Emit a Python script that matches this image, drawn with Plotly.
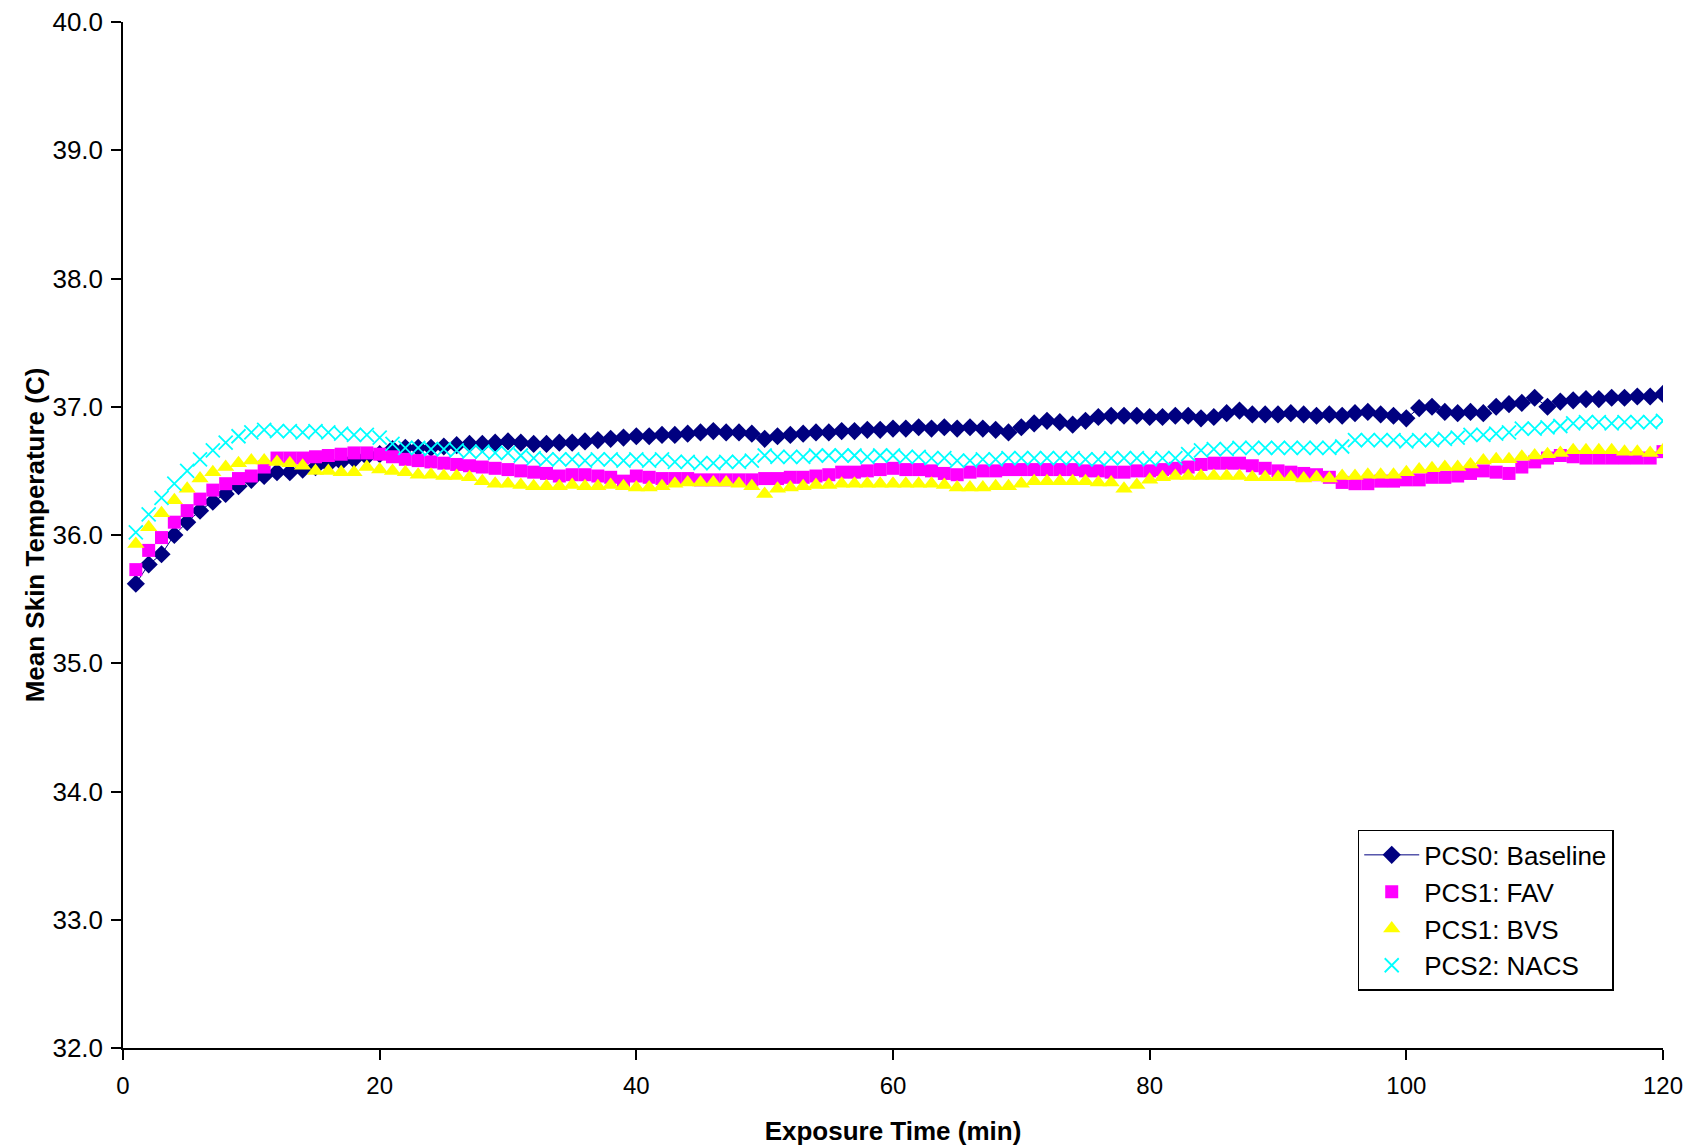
import plotly.graph_objects as go

minutes = list(range(1, 121))

baseline = [
    35.62, 35.77, 35.85, 36.00, 36.10, 36.19, 36.26, 36.32, 36.38, 36.43,
    36.46, 36.49, 36.49, 36.51, 36.53, 36.55, 36.57, 36.59, 36.61, 36.63,
    36.67, 36.68, 36.68, 36.68, 36.69, 36.70, 36.71, 36.71, 36.72, 36.73,
    36.72, 36.71, 36.71, 36.72, 36.72, 36.73, 36.74, 36.75, 36.76, 36.77,
    36.77, 36.78, 36.78, 36.79, 36.80, 36.81, 36.80, 36.80, 36.79, 36.75,
    36.77, 36.78, 36.79, 36.80, 36.80, 36.81, 36.81, 36.82, 36.82, 36.83,
    36.83, 36.84, 36.83, 36.84, 36.83, 36.84, 36.83, 36.82, 36.80, 36.84,
    36.87, 36.89, 36.88, 36.86, 36.89, 36.92, 36.93, 36.93, 36.93, 36.92,
    36.92, 36.93, 36.93, 36.91, 36.92, 36.95, 36.97, 36.94, 36.94, 36.94,
    36.95, 36.94, 36.93, 36.94, 36.93, 36.95, 36.96, 36.94, 36.93, 36.91,
    36.99, 37.00, 36.96, 36.95, 36.96, 36.95, 37.00, 37.02, 37.03, 37.07,
    37.00, 37.04, 37.05, 37.06, 37.06, 37.07, 37.07, 37.08, 37.08, 37.10,
]

fav = [
    35.73, 35.88, 35.98, 36.10, 36.19, 36.28, 36.35, 36.40, 36.44, 36.46,
    36.53, 36.60, 36.60, 36.60, 36.61, 36.62, 36.63, 36.64, 36.64, 36.63,
    36.61, 36.59, 36.58, 36.57, 36.56, 36.55, 36.54, 36.53, 36.52, 36.51,
    36.50, 36.49, 36.48, 36.46, 36.47, 36.47, 36.46, 36.45, 36.42, 36.46,
    36.45, 36.44, 36.44, 36.44, 36.43, 36.43, 36.43, 36.43, 36.43, 36.44,
    36.44, 36.45, 36.45, 36.46, 36.47, 36.49, 36.49, 36.50, 36.51, 36.52,
    36.51, 36.51, 36.50, 36.48, 36.47, 36.49, 36.50, 36.50, 36.51, 36.51,
    36.51, 36.51, 36.51, 36.51, 36.50, 36.50, 36.49, 36.49, 36.50, 36.50,
    36.51, 36.52, 36.53, 36.55, 36.56, 36.56, 36.56, 36.54, 36.52, 36.50,
    36.49, 36.48, 36.47, 36.45, 36.41, 36.40, 36.40, 36.42, 36.42, 36.43,
    36.43, 36.45, 36.45, 36.46, 36.48, 36.50, 36.49, 36.48, 36.53, 36.57,
    36.60, 36.62, 36.61, 36.60, 36.60, 36.60, 36.60, 36.60, 36.60, 36.65,
]

bvs = [
    35.93, 36.06, 36.17, 36.27, 36.36, 36.44, 36.49, 36.53, 36.56, 36.58,
    36.58, 36.57, 36.56, 36.54, 36.50, 36.50, 36.49, 36.49, 36.53, 36.51,
    36.50, 36.49, 36.47, 36.47, 36.46, 36.46, 36.45, 36.42, 36.40, 36.40,
    36.39, 36.38, 36.38, 36.38, 36.39, 36.38, 36.38, 36.39, 36.38, 36.37,
    36.37, 36.38, 36.40, 36.41, 36.41, 36.41, 36.41, 36.40, 36.38, 36.32,
    36.36, 36.37, 36.38, 36.39, 36.39, 36.40, 36.40, 36.40, 36.40, 36.40,
    36.40, 36.40, 36.40, 36.39, 36.37, 36.37, 36.37, 36.38, 36.38, 36.40,
    36.42, 36.42, 36.42, 36.42, 36.42, 36.41, 36.41, 36.36, 36.39, 36.43,
    36.45, 36.46, 36.46, 36.46, 36.46, 36.46, 36.46, 36.45, 36.45, 36.45,
    36.45, 36.44, 36.45, 36.44, 36.46, 36.46, 36.47, 36.47, 36.47, 36.49,
    36.51, 36.52, 36.53, 36.53, 36.55, 36.58, 36.59, 36.59, 36.61, 36.62,
    36.63, 36.64, 36.66, 36.66, 36.66, 36.66, 36.65, 36.65, 36.64, 36.66,
]

nacs = [
    36.02, 36.16, 36.29, 36.40, 36.50, 36.59, 36.66, 36.72, 36.77, 36.80,
    36.82, 36.81, 36.81, 36.80, 36.81, 36.80, 36.79, 36.78, 36.78, 36.76,
    36.71, 36.68, 36.68, 36.67, 36.67, 36.66, 36.65, 36.65, 36.64, 36.64,
    36.62, 36.60, 36.59, 36.59, 36.59, 36.58, 36.59, 36.59, 36.58, 36.59,
    36.58, 36.59, 36.57, 36.57, 36.56, 36.56, 36.57, 36.57, 36.58, 36.62,
    36.61, 36.61, 36.61, 36.62, 36.62, 36.62, 36.62, 36.61, 36.62, 36.62,
    36.61, 36.61, 36.60, 36.60, 36.58, 36.58, 36.59, 36.59, 36.60, 36.60,
    36.60, 36.60, 36.60, 36.60, 36.59, 36.59, 36.60, 36.60, 36.60, 36.59,
    36.60, 36.60, 36.63, 36.66, 36.67, 36.67, 36.68, 36.68, 36.68, 36.68,
    36.68, 36.68, 36.68, 36.68, 36.69, 36.74, 36.74, 36.74, 36.74, 36.73,
    36.74, 36.74, 36.75, 36.76, 36.78, 36.78, 36.79, 36.80, 36.83, 36.83,
    36.84, 36.85, 36.87, 36.88, 36.88, 36.87, 36.88, 36.88, 36.88, 36.89,
]

series_names = ["PCS0: Baseline", "PCS1: FAV", "PCS1: BVS", "PCS2: NACS"]
y_ticks = [32, 33, 34, 35, 36, 37, 38, 39, 40]
x_ticks = [0, 20, 40, 60, 80, 100, 120]

FONT = "Liberation Sans, Arial, sans-serif"

fig = go.Figure()
fig.add_trace(go.Scatter(
    x=minutes, y=baseline, name=series_names[0], mode="lines+markers",
    line=dict(color="#000080", width=1),
    marker=dict(symbol="diamond", size=14, color="#000080"),
))
fig.add_trace(go.Scatter(
    x=minutes, y=fav, name=series_names[1], mode="markers",
    marker=dict(symbol="square", size=13, color="#FF00FF"),
))
fig.add_trace(go.Scatter(
    x=minutes, y=bvs, name=series_names[2], mode="markers",
    marker=dict(symbol="triangle-up", size=15, color="#FFFF00"),
))
fig.add_trace(go.Scatter(
    x=minutes, y=nacs, name=series_names[3], mode="markers",
    marker=dict(symbol="x-thin", size=14, color="#00FFFF",
                line=dict(color="#00FFFF", width=1.8)),
))

fig.update_layout(
    width=1702, height=1146,
    margin=dict(l=123, r=39, t=22, b=98, autoexpand=False),
    paper_bgcolor="white", plot_bgcolor="white",
    font=dict(family=FONT, size=24, color="black"),
    showlegend=True,
    legend=dict(
        x=0.968, y=0.0556, xanchor="right", yanchor="bottom",
        bordercolor="black", borderwidth=1.5, bgcolor="white",
        font=dict(family=FONT, size=26, color="black"),
        tracegroupgap=0, itemwidth=55,
    ),
)
fig.update_xaxes(
    range=[0, 120], tickvals=x_ticks, ticktext=[str(v) for v in x_ticks],
    showgrid=False, zeroline=False, automargin=False,
    showline=True, linecolor="black", linewidth=1.5,
    ticks="outside", ticklen=10, tickwidth=1.5, tickcolor="black",
    ticklabelstandoff=5,
    tickfont=dict(family=FONT, size=24, color="black"),
    title=dict(text="<b>Exposure Time (min)</b>", font=dict(family=FONT, size=26, color="black"), standoff=32),
)
fig.update_yaxes(
    range=[32, 40], tickvals=y_ticks, ticktext=[f"{v:.1f}" for v in y_ticks],
    showgrid=False, zeroline=False, automargin=False,
    showline=True, linecolor="black", linewidth=1.5,
    ticks="outside", ticklen=10, tickwidth=1.5, tickcolor="black",
    ticklabelstandoff=3,
    tickfont=dict(family=FONT, size=26, color="black"),
    title=dict(text="<b>Mean Skin Temperature (C)</b>", font=dict(family=FONT, size=26, color="black"), standoff=0),
)

fig.write_html(
    "out.html",
    config={"displayModeBar": False},
    post_script="document.body.style.margin='0';document.body.style.padding='0';",
)
